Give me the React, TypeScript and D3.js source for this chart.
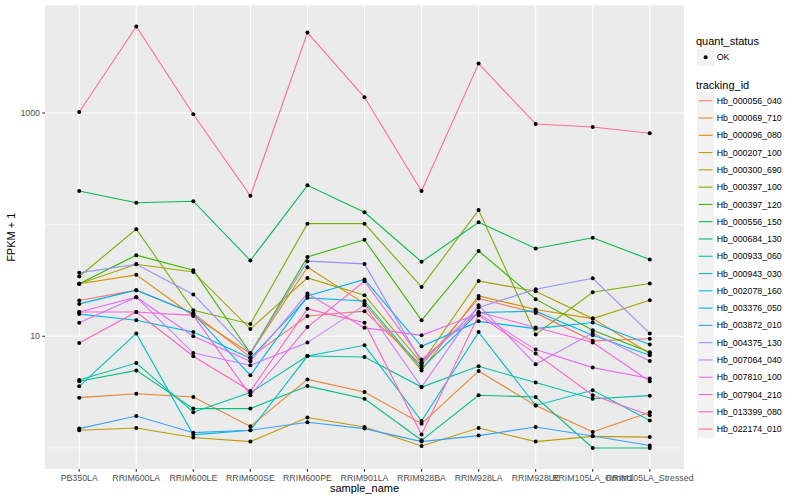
import React, { useEffect, useRef } from 'react';
import * as d3 from 'd3';

const samples = [
  'PB350LA', 'RRIM600LA', 'RRIM600LE', 'RRIM600SE', 'RRIM600PE', 'RRIM901LA',
  'RRIM928BA', 'RRIM928LA', 'RRIM928LE', 'RRIM105LA_Control', 'RRIM105LA_Stressed',
];

const trackingIds = [
  'Hb_000056_040', 'Hb_000069_710', 'Hb_000096_080', 'Hb_000207_100', 'Hb_000300_690',
  'Hb_000397_100', 'Hb_000397_120', 'Hb_000556_150', 'Hb_000684_130', 'Hb_000933_060',
  'Hb_000943_030', 'Hb_002078_160', 'Hb_003376_050', 'Hb_003872_010', 'Hb_004375_130',
  'Hb_007064_040', 'Hb_007810_100', 'Hb_007904_210', 'Hb_013399_080', 'Hb_022174_010',
];

// FPKM + 1, one value per sample
const hb000056_040 = [20.9, 25.9, 16.1, 6.5, 15.2, 16.8, 5.5, 21.8, 16.2, 9.1, 9.5];
const hb000069_710 = [2.82, 3.06, 2.86, 1.56, 4.11, 3.17, 1.65, 4.88, 2.4, 1.39, 2.09];
const hb000096_080 = [29.5, 35.5, 15.2, 7.0, 41.6, 19.6, 4.95, 23.0, 17.4, 14.4, 7.0];
const hb000207_100 = [1.44, 1.51, 1.24, 1.14, 1.87, 1.54, 1.04, 1.51, 1.14, 1.27, 1.25];
const hb000300_690 = [29.5, 44.2, 37.7, 11.6, 33.3, 23.3, 5.73, 31.3, 25.3, 14.4, 21.0];
const hb000397_100 = [34.3, 91.1, 17.1, 12.9, 102, 102, 27.7, 135, 10.4, 24.8, 29.7];
const hb000397_120 = [29.5, 53.3, 39.1, 7.04, 51.4, 73.1, 13.9, 58.2, 21.5, 11.3, 7.2];
const hb000556_150 = [200, 157, 162, 47.7, 225, 129, 46.4, 105, 61.2, 76.2, 48.7];
const hb000684_130 = [3.95, 4.95, 2.25, 2.25, 3.58, 2.76, 1.17, 2.96, 2.86, 1.0, 1.0];
const hb000933_060 = [4.06, 5.76, 2.09, 3.13, 6.65, 6.52, 3.51, 5.38, 3.85, 2.76, 2.94];
const hb000943_030 = [3.56, 10.6, 1.31, 1.44, 6.65, 8.3, 1.74, 10.9, 2.4, 3.28, 1.76];
const hb002078_160 = [15.8, 13.9, 10.9, 6.35, 22.1, 20.7, 5.16, 16.3, 16.8, 10.2, 6.76];
const hb003376_050 = [19.5, 25.9, 16.0, 4.47, 23.0, 32.3, 8.13, 13.6, 11.7, 13.3, 8.43];
const hb003872_010 = [1.49, 1.93, 1.37, 1.44, 1.7, 1.49, 1.14, 1.29, 1.54, 1.28, 1.05];
const hb004375_130 = [37.0, 44.2, 23.7, 7.04, 47.1, 44.5, 5.85, 18.1, 26.4, 33.1, 10.6];
const hb007064_040 = [13.2, 22.4, 7.08, 5.5, 8.78, 19.0, 3.51, 19.0, 5.61, 10.7, 6.0];
const hb007810_100 = [16.5, 22.4, 10.0, 5.97, 24.2, 11.9, 10.2, 16.0, 7.6, 5.24, 4.18];
const hb007904_210 = [16.5, 16.5, 15.4, 2.96, 12.1, 31.1, 6.18, 16.5, 12.0, 8.78, 3.95];
const hb013399_080 = [8.71, 16.5, 6.62, 3.23, 17.6, 13.2, 1.32, 15.4, 7.0, 2.96, 1.96];
const hb022174_010 = [1021, 5943, 973, 181, 5250, 1383, 200, 2768, 797, 749, 658];

const fpkmSeries = [
  hb000056_040, hb000069_710, hb000096_080, hb000207_100, hb000300_690,
  hb000397_100, hb000397_120, hb000556_150, hb000684_130, hb000933_060,
  hb000943_030, hb002078_160, hb003376_050, hb003872_010, hb004375_130,
  hb007064_040, hb007810_100, hb007904_210, hb013399_080, hb022174_010,
];

const yMajorTicks = [10, 1000];
const yMinorTicks = [1, 100];
const quantStatus = ['OK'];

// ggplot2 default hue palette for 20 levels
const palette = [
  '#F8766D', '#EA8331', '#D89000', '#C09B00', '#A3A500', '#7CAE00', '#39B600',
  '#00BB4E', '#00BF7D', '#00C1A3', '#00BFC4', '#00BAE0', '#00B0F6', '#35A2FF',
  '#9590FF', '#C77CFF', '#E76BF3', '#FA62DB', '#FF62BC', '#FF6C91',
];

const FONT = '"Liberation Sans", Arial, Helvetica, sans-serif';

const App: React.FC = () => {
  const ref = useRef<SVGSVGElement | null>(null);

  useEffect(() => {
    if (!ref.current) return;
    const svg = d3.select(ref.current);
    svg.selectAll('*').remove();
    svg.attr('font-family', FONT);

    const panel = { left: 45, right: 684, top: 5.5, bottom: 469 };

    const x = d3.scalePoint<string>()
      .domain(samples)
      .range([panel.left, panel.right])
      .padding(0.6);

    const all = fpkmSeries.flat();
    const lo = Math.log10(d3.min(all)!);
    const hi = Math.log10(d3.max(all)!);
    const pad = (hi - lo) * 0.05;
    const y = d3.scaleLog()
      .domain([Math.pow(10, lo - pad), Math.pow(10, hi + pad)])
      .range([panel.bottom, panel.top]);

    const color = d3.scaleOrdinal<string, string>().domain(trackingIds).range(palette);

    svg.append('rect')
      .attr('width', 800).attr('height', 500).attr('fill', '#ffffff');

    svg.append('rect')
      .attr('x', panel.left).attr('y', panel.top)
      .attr('width', panel.right - panel.left)
      .attr('height', panel.bottom - panel.top)
      .attr('fill', '#EBEBEB');

    const grid = svg.append('g');
    grid.selectAll('.minor')
      .data(yMinorTicks)
      .enter().append('line')
      .attr('x1', panel.left).attr('x2', panel.right)
      .attr('y1', d => y(d)).attr('y2', d => y(d))
      .attr('stroke', '#ffffff').attr('stroke-width', 0.55);
    grid.selectAll('.major')
      .data(yMajorTicks)
      .enter().append('line')
      .attr('x1', panel.left).attr('x2', panel.right)
      .attr('y1', d => y(d)).attr('y2', d => y(d))
      .attr('stroke', '#ffffff').attr('stroke-width', 1.1);
    grid.selectAll('.vmajor')
      .data(samples)
      .enter().append('line')
      .attr('x1', d => x(d)!).attr('x2', d => x(d)!)
      .attr('y1', panel.top).attr('y2', panel.bottom)
      .attr('stroke', '#ffffff').attr('stroke-width', 1.1);

    const line = d3.line<number>()
      .x((_, i) => x(samples[i])!)
      .y(d => y(d));

    svg.append('g')
      .selectAll('path')
      .data(fpkmSeries)
      .enter().append('path')
      .attr('d', d => line(d))
      .attr('fill', 'none')
      .attr('stroke', (_, i) => color(trackingIds[i]))
      .attr('stroke-width', 1.1);

    const pts = fpkmSeries.flatMap(s => s.map((v, i) => ({ s: samples[i], v })));
    svg.append('g')
      .selectAll('circle')
      .data(pts)
      .enter().append('circle')
      .attr('cx', d => x(d.s)!)
      .attr('cy', d => y(d.v))
      .attr('r', 2)
      .attr('fill', '#000000');

    // axes
    const xAxis = svg.append('g');
    samples.forEach(s => {
      xAxis.append('line')
        .attr('x1', x(s)!).attr('x2', x(s)!)
        .attr('y1', panel.bottom).attr('y2', panel.bottom + 2.7)
        .attr('stroke', '#333333').attr('stroke-width', 1.1);
      xAxis.append('text')
        .attr('x', x(s)!).attr('y', panel.bottom + 11.5)
        .attr('text-anchor', 'middle')
        .attr('font-size', 8.8)
        .attr('fill', '#4D4D4D')
        .text(s);
    });

    const yAxis = svg.append('g');
    yMajorTicks.forEach(t => {
      yAxis.append('line')
        .attr('x1', panel.left - 2.7).attr('x2', panel.left)
        .attr('y1', y(t)).attr('y2', y(t))
        .attr('stroke', '#333333').attr('stroke-width', 1.1);
      yAxis.append('text')
        .attr('x', panel.left - 5).attr('y', y(t) + 3.2)
        .attr('text-anchor', 'end')
        .attr('font-size', 8.8)
        .attr('fill', '#4D4D4D')
        .text(String(t));
    });

    svg.append('text')
      .attr('x', (panel.left + panel.right) / 2).attr('y', 492)
      .attr('text-anchor', 'middle')
      .attr('font-size', 11)
      .text('sample_name');

    svg.append('text')
      .attr('transform', `translate(15,${(panel.top + panel.bottom) / 2}) rotate(-90)`)
      .attr('text-anchor', 'middle')
      .attr('font-size', 11)
      .text('FPKM + 1');

    // legends
    const lg = svg.append('g');
    const keyX = 697;
    const keySize = 17.28;

    lg.append('text')
      .attr('x', 696).attr('y', 44.5)
      .attr('font-size', 11)
      .text('quant_status');
    quantStatus.forEach((q, i) => {
      const ky = 48.6 + i * keySize;
      lg.append('rect')
        .attr('x', keyX).attr('y', ky)
        .attr('width', keySize).attr('height', keySize)
        .attr('fill', '#F2F2F2');
      lg.append('circle')
        .attr('cx', keyX + keySize / 2).attr('cy', ky + keySize / 2)
        .attr('r', 2).attr('fill', '#000000');
      lg.append('text')
        .attr('x', 716.7).attr('y', ky + keySize / 2 + 3.1)
        .attr('font-size', 8.8)
        .text(q);
    });

    lg.append('text')
      .attr('x', 696).attr('y', 88.8)
      .attr('font-size', 11)
      .text('tracking_id');
    trackingIds.forEach((id, i) => {
      const ky = 92.1 + i * keySize;
      lg.append('rect')
        .attr('x', keyX).attr('y', ky)
        .attr('width', keySize).attr('height', keySize)
        .attr('fill', '#F2F2F2');
      lg.append('line')
        .attr('x1', keyX + 1.7).attr('x2', keyX + keySize - 1.7)
        .attr('y1', ky + keySize / 2).attr('y2', ky + keySize / 2)
        .attr('stroke', color(id)).attr('stroke-width', 1.1);
      lg.append('text')
        .attr('x', 716.7).attr('y', ky + keySize / 2 + 3.1)
        .attr('font-size', 8.8)
        .text(id);
    });
  }, []);

  return (
    <svg
      ref={ref}
      width={800}
      height={500}
      style={{ position: 'absolute', left: 0, top: 0 }}
    />
  );
};

export default App;
